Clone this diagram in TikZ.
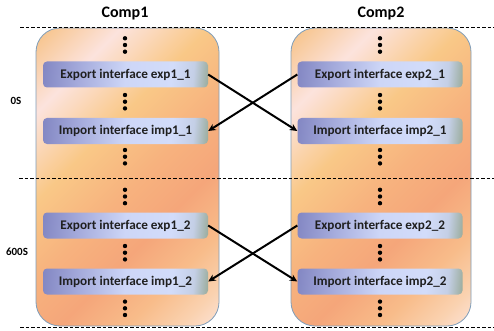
\documentclass[tikz,border=0pt]{standalone}
\usepackage{fontspec}
\setmainfont{Carlito}
\usetikzlibrary{arrows.meta}
\definecolor{ca}{HTML}{F7C58E}
\definecolor{cb}{HTML}{FCE3DD}
\definecolor{cc}{HTML}{F9C887}
\definecolor{cd}{HTML}{F7B27E}
\definecolor{ce}{HTML}{F5A67A}
\definecolor{cf}{HTML}{F8BC8A}
\definecolor{cg}{HTML}{FAD2B0}
\definecolor{ch}{HTML}{FDE4DA}
\definecolor{ba}{HTML}{8387C3}
\definecolor{bb}{HTML}{A5ABDC}
\definecolor{bc}{HTML}{CDD6F7}
\definecolor{bd}{HTML}{D2DCFA}
\definecolor{be}{HTML}{C4CFE6}
\definecolor{bf}{HTML}{9AAC9C}
\definecolor{compborder}{HTML}{7F9DB9}
\pgfdeclarehorizontalshading{compshade}{100bp}{color(0bp)=(ca); color(16bp)=(ca); color(27bp)=(cb); color(40bp)=(cc); color(52bp)=(cd); color(62bp)=(ce); color(72bp)=(cf); color(80bp)=(cg); color(86bp)=(ch); color(100bp)=(ch)}
\pgfdeclarehorizontalshading{boxshade}{100bp}{color(0bp)=(ba); color(23bp)=(ba); color(35bp)=(bb); color(50bp)=(bc); color(65bp)=(bd); color(72bp)=(be); color(77bp)=(bf); color(100bp)=(bf)}
\tikzset{
  comp/.style={draw=compborder, line width=0.8pt, rounded corners=24pt, shading=compshade, shading angle=-45, inner sep=0pt},
  iface/.style={shading=boxshade, shading angle=-5, rounded corners=4pt, minimum width=165pt, minimum height=26pt, inner sep=0pt, font=\fontsize{13.2}{15}\selectfont\bfseries, text=black!88},
  sep/.style={dash pattern=on 3.5pt off 2pt, line width=0.9pt},
  link/.style={line width=2pt, -{Stealth[length=7.5pt,width=7pt]}},
  title/.style={font=\fontsize{16}{18}\selectfont\bfseries},
  tlabel/.style={font=\fontsize{11}{13}\selectfont\bfseries}
}
\begin{document}
\begin{tikzpicture}[x=1pt,y=-1pt]
\useasboundingbox (0,0) rectangle (494,331);
% containers
\node[comp, minimum width=183pt, minimum height=298pt] (comp1) at (127.5,177) {};
\node[comp, minimum width=180pt, minimum height=298pt] (comp2) at (381,177) {};
% titles
\node[title] (t1) at (125,14) {Comp1};
\node[title] (t2) at (381,14) {Comp2};
% time labels
\node[tlabel] (l0) at (16,101) {0S};
\node[tlabel] (l600) at (17,252) {600S};
% separators
\draw[sep] (20,27.5) -- (494,27.5);
\draw[sep] (19,178) -- (494,178);
\draw[sep] (20,327) -- (494,327);
% dots
\foreach \x in {125,380}{
  \foreach \y in {45,101.7,156.7,196.5,252.7,308.3}{
    \foreach \d in {-6.7,0,6.7}{
      \fill (\x,\y+\d) circle (2.2pt);
    }
  }
}
% interfaces
\node[iface] (exp11) at (125.5,74.5) {Export interface exp1\_1};
\node[iface] (imp11) at (125.5,131) {Import interface imp1\_1};
\node[iface] (exp21) at (380,74.5) {Export interface exp2\_1};
\node[iface] (imp21) at (380,131) {Import interface imp2\_1};
\node[iface] (exp12) at (125.5,225.5) {Export interface exp1\_2};
\node[iface] (imp12) at (125.5,281.5) {Import interface imp1\_2};
\node[iface] (exp22) at (380,225.5) {Export interface exp2\_2};
\node[iface] (imp22) at (380,281.5) {Import interface imp2\_2};
% links
\draw[link] (exp11.east) -- (imp21.west);
\draw[link] (exp21.west) -- (imp11.east);
\draw[link] (exp12.east) -- (imp22.west);
\draw[link] (exp22.west) -- (imp12.east);
\end{tikzpicture}
\end{document}
